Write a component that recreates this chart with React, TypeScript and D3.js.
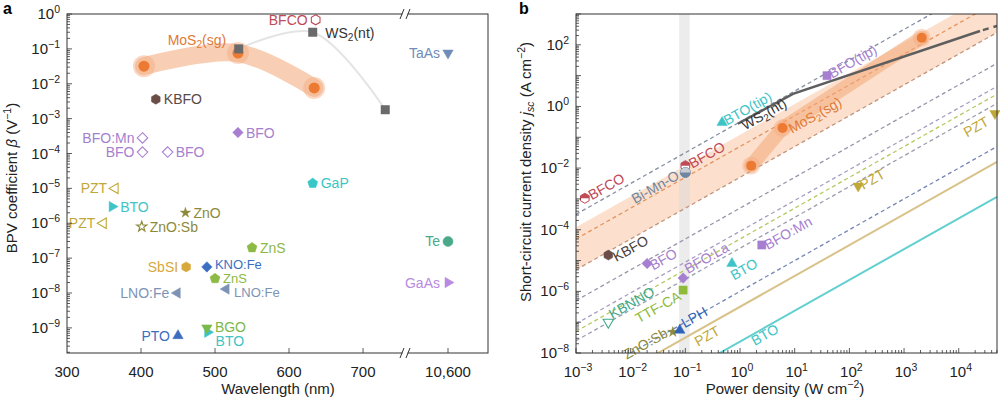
import * as d3 from "d3";

const FONT = "'Liberation Sans', Arial, Helvetica, sans-serif";

// ---------- panel a : BPV coefficient vs wavelength ----------
const aNames = ["KBFO", "BFO", "BFO:Mn", "BFO", "BFO", "GaP", "PZT", "BTO", "PZT", "ZnO", "ZnO:Sb", "ZnS", "SbSI", "KNO:Fe", "ZnS", "LNO:Fe", "LNO:Fe", "BTO", "BGO", "PTO", "Te", "GaAs", "TaAs", "BFCO"];
const aWavelength = [420, 531, 402, 402, 436, 632, 365, 361, 349, 460, 401, 550, 461, 489, 500, 515, 449, 490, 489, 450, 10600, 10600, 10600, 636];
const aBeta = [3.6e-3, 4e-4, 2.8e-4, 1.1e-4, 1.1e-4, 1.4e-5, 1e-5, 3e-6, 1e-6, 2e-6, 8e-7, 2e-7, 5.6e-8, 5.6e-8, 2.6e-8, 1.3e-8, 1e-8, 7.5e-10, 1e-9, 6e-10, 3e-7, 2e-8, 7.6e-2, 0.68];
const aMoS2Wl = [404, 531, 634];
const aMoS2Beta = [0.032, 0.076, 0.0076];
const aWS2Wl = [532, 632, 730];
const aWS2Beta = [0.1, 0.3, 0.0018];
const aXTicks = [300, 400, 500, 600, 700, 10600];
const aXTickText = ["300", "400", "500", "600", "700", "10,600"];

// ---------- panel b : short-circuit current vs power density ----------
const bNames = ["BFCO", "BFCO", "Bi-Mn-O", "BTO(tip)", "BFO(tip)", "KBFO", "BFO", "BFO:La", "TTF-CA", "KBNNO", "ZnO:Sb", "LPH", "BTO", "BFO:Mn", "PZT", "PZT"];
const bPower = [1.45e-3, 0.1, 0.1, 0.47, 39, 3.9e-3, 0.02, 0.091, 0.091, 3.9e-3, 0.059, 0.079, 0.71, 2.5, 145, 4.6e4];
const bJsc = [1.05e-3, 0.012, 7.2e-3, 0.3, 10, 1.5e-5, 8e-6, 2.7e-6, 1.1e-6, 1e-7, 4.8e-8, 5.5e-8, 8e-6, 3.2e-5, 2.6e-3, 0.59];
const bMoS2P = [1.6, 6, 2100];
const bMoS2J = [0.012, 0.2, 170];
const bWS2P = [0.91, 9.3, 2.45e4];
const bWS2J = [0.275, 2.57, 282];
const bWS2TailP = [2.45e4, 5e4];
const bWS2TailJ = [282, 410];
// log10(j) - log10(P) of the reference lines (slope 1)
const bLineOffsets = [-0.5, -1.3, -2.3, -3.3, -4.05, -4.3, -4.6, -6.0, -6.5, -7.63];
const bBandOffsets = [-0.92, -2.3];
const bGrayBandP = [0.077, 0.12];
const bNoteText = ["WS2(nt)", "MoS2(sg)", "PZT", "BTO"];
const bNoteP = [1.23, 8.9, 0.17, 1.86];
const bNoteJ = [0.166, 0.13, 1.6e-8, 1.7e-8];

// styles
const COL = {
  kbfo: "#6b4d48", bfo: "#a67fd0", pzt: "#c0a838", bto: "#3ec4c6", zno: "#8c8a3a", zns: "#8dba44",
  sbsi: "#d9a83a", kno: "#3b6fc4", lno: "#7d93b5", bgo: "#7ab94a", pto: "#3d6dbf", te: "#4aa98a",
  gaas: "#b88be0", taas: "#6f8db8", bfco: "#c04a55", gap: "#38c6c6", mos2: "#ec7a33", ws2: "#6a6a6a",
  bimno: "#6f86a0", kbnno: "#3fa88a", ttf: "#8fba3a", lph: "#2f63b8",
};

type St = { shape: string; color: string; fill: boolean; side: "l" | "r"; dx?: number; dy?: number; text?: string; fs?: number };
const aStyle: St[] = [
  { shape: "hex", color: COL.kbfo, fill: true, side: "r", text: "#5a4a48" },
  { shape: "diamond", color: COL.bfo, fill: true, side: "r" },
  { shape: "diamond", color: COL.bfo, fill: false, side: "l" },
  { shape: "diamond", color: COL.bfo, fill: false, side: "l" },
  { shape: "diamond", color: COL.bfo, fill: false, side: "r" },
  { shape: "pent", color: COL.gap, fill: true, side: "r" },
  { shape: "triLeft", color: COL.pzt, fill: false, side: "l" },
  { shape: "triRight", color: COL.bto, fill: true, side: "r" },
  { shape: "triLeft", color: COL.pzt, fill: false, side: "l" },
  { shape: "star", color: COL.zno, fill: true, side: "r" },
  { shape: "star", color: COL.zno, fill: false, side: "r" },
  { shape: "pent", color: COL.zns, fill: true, side: "r" },
  { shape: "hex", color: COL.sbsi, fill: true, side: "l" },
  { shape: "diamond", color: COL.kno, fill: true, side: "r", dy: -3, fs: 13 },
  { shape: "pent", color: COL.zns, fill: true, side: "r", dy: -1, fs: 13 },
  { shape: "triLeft", color: COL.lno, fill: true, side: "r", dy: 3, fs: 13 },
  { shape: "triLeft", color: COL.lno, fill: true, side: "l" },
  { shape: "triRight", color: COL.bto, fill: true, side: "r", dy: 9 },
  { shape: "triDown", color: COL.bgo, fill: true, side: "r", dy: -1 },
  { shape: "triUp", color: COL.pto, fill: true, side: "l" },
  { shape: "circle", color: COL.te, fill: true, side: "l" },
  { shape: "triRight", color: COL.gaas, fill: true, side: "l" },
  { shape: "triDown", color: COL.taas, fill: true, side: "l" },
  { shape: "hex", color: COL.bfco, fill: false, side: "l" },
];

type BSt = { shape: string; color: string; anchor: "start" | "end"; dx: number; dy: number };
const bStyle: BSt[] = [
  { shape: "hexHalf", color: COL.bfco, anchor: "start", dx: 7, dy: 2 },
  { shape: "hexHalf", color: COL.bfco, anchor: "start", dx: 7, dy: 3 },
  { shape: "circHalf", color: COL.bimno, anchor: "end", dx: -5, dy: 6 },
  { shape: "triUp", color: COL.bto, anchor: "start", dx: 5, dy: 3 },
  { shape: "square", color: COL.bfo, anchor: "start", dx: 5, dy: 3 },
  { shape: "hex", color: COL.kbfo, anchor: "start", dx: 8, dy: 7 },
  { shape: "diamond", color: COL.bfo, anchor: "start", dx: 6, dy: 7 },
  { shape: "diamond", color: COL.bfo, anchor: "start", dx: 5, dy: -4 },
  { shape: "square", color: COL.ttf, anchor: "end", dx: -1, dy: 9 },
  { shape: "triDownHollow", color: COL.kbnno, anchor: "start", dx: 4, dy: -3 },
  { shape: "star", color: COL.zno, anchor: "end", dx: -4, dy: 4 },
  { shape: "triUp", color: COL.lph, anchor: "start", dx: 5, dy: -2 },
  { shape: "triUp", color: COL.bto, anchor: "start", dx: 2, dy: 17 },
  { shape: "square", color: COL.bfo, anchor: "start", dx: 6, dy: 5 },
  { shape: "triDown", color: COL.pzt, anchor: "start", dx: 5, dy: 4 },
  { shape: "triDown", color: COL.pzt, anchor: "end", dx: -5, dy: 11 },
];
const bLineStyle = [
  { color: "#858ea2", dash: true }, { color: "#e3945f", dash: true }, { color: "#c2957c", dash: true },
  { color: "#9597aa", dash: true }, { color: "#a89dc2", dash: true }, { color: "#b3ca62", dash: true },
  { color: "#9c9eb0", dash: true }, { color: "#7686b3", dash: true }, { color: "#d9c28a", dash: false },
  { color: "#62cfd0", dash: false },
];
const bNoteColor = ["#333", "#e07a36", COL.pzt, COL.bto];

// ---------- helpers ----------
function poly(n: number, r: number, rot: number) {
  const pts = d3.range(n).map((i) => {
    const a = ((rot + (i * 360) / n - 90) * Math.PI) / 180;
    return [r * Math.cos(a), r * Math.sin(a)];
  });
  return "M" + pts.map((p) => p.map((v) => v.toFixed(2)).join(",")).join("L") + "Z";
}
function shapePath(shape: string, r: number) {
  switch (shape) {
    case "hex": case "hexHalf": return poly(6, r, 0);
    case "pent": return poly(5, r * 1.05, 0);
    case "triUp": return poly(3, r * 1.2, 0);
    case "triDown": case "triDownHollow": return poly(3, r * 1.2, 180);
    case "triLeft": return poly(3, r * 1.2, -90);
    case "triRight": return poly(3, r * 1.2, 90);
    case "diamond": return poly(4, r * 1.05, 0);
    case "square": return poly(4, r * 1.15, 45);
    case "star": return d3.symbol(d3.symbolStar, r * r * 1.3)() as string;
    default: return d3.symbol(d3.symbolCircle, Math.PI * r * r)() as string;
  }
}
function Marker({ x, y, shape, color, fill, r = 5 }: { x: number; y: number; shape: string; color: string; fill: boolean; r?: number }) {
  const d = shapePath(shape, r);
  if (shape === "hexHalf" || shape === "circHalf") {
    const c = r * Math.cos(Math.PI / 6);
    const top = shape === "hexHalf"
      ? `M${-c},${-r / 2}L0,${-r}L${c},${-r / 2}L${c},0L${-c},0Z`
      : `M${-r},0A${r},${r} 0 0 1 ${r},0Z`;
    const base = shape === "hexHalf" ? d : (d3.symbol(d3.symbolCircle, Math.PI * r * r)() as string);
    return (
      <g transform={`translate(${x},${y})`}>
        <path d={base} fill={shape === "hexHalf" ? "#fff" : color} stroke={color} strokeWidth={1} />
        <path d={top} fill={shape === "hexHalf" ? color : "#c9ccd3"} />
      </g>
    );
  }
  const hollow = !fill || shape === "triDownHollow";
  return (
    <path d={d} transform={`translate(${x},${y})`} fill={hollow ? "#fff" : color} stroke={color} strokeWidth={hollow ? 1.1 : 0.5} />
  );
}
function exp(e: number) {
  return e < 0 ? "\u2212" + Math.abs(e) : String(e);
}
function Pow({ x, y, e, anchor }: { x: number; y: number; e: number; anchor: string }) {
  return (
    <text x={x} y={y} textAnchor={anchor} fontSize={15} fill="#222">
      10<tspan dy={-6} fontSize={10.5}>{exp(e)}</tspan>
    </text>
  );
}
function Chem({ s }: { s: string }) {
  const m = s.match(/^([A-Za-z]+?)2(.*)$/);
  if (m && (s.startsWith("WS2") || s.startsWith("MoS2"))) {
    return (<>{m[1]}<tspan dy={3} fontSize="0.72em">2</tspan><tspan dy={-3}>{m[2]}</tspan></>);
  }
  return <>{s}</>;
}
function minorTicks(lo: number, hi: number) {
  const out: { v: number; major: boolean; e: number }[] = [];
  for (let e = Math.floor(Math.log10(lo)); e <= Math.ceil(Math.log10(hi)); e++) {
    for (let m = 1; m <= 9; m++) {
      const v = m * Math.pow(10, e);
      if (v >= lo * 0.999 && v <= hi * 1.001) out.push({ v, major: m === 1, e });
    }
  }
  return out;
}

export default function App() {
  // panel a scales
  const ax = d3.scaleLinear().domain([300, 754, 10546, 10654]).range([67, 403, 408, 488]);
  const ay = d3.scaleLog().domain([Math.pow(10, -9.72), 1]).range([353, 14]);
  // panel b scales
  const bx = d3.scaleLog().domain([1e-3, Math.pow(10, 4.7)]).range([576, 997]);
  const by = d3.scaleLog().domain([1e-8, 1e3]).range([353, 14]);
  const pxPerDecX = (997 - 576) / 7.7;
  const pxPerDecY = 339 / 11;
  const ang = (-Math.atan(pxPerDecY / pxPerDecX) * 180) / Math.PI;

  const curveLine = d3.line<[number, number]>().x((d) => d[0]).y((d) => d[1]).curve(d3.curveCatmullRom.alpha(0.5));
  const straight = d3.line<[number, number]>().x((d) => d[0]).y((d) => d[1]);

  const aMoS2Pts = aMoS2Wl.map((w, i) => [ax(w), ay(aMoS2Beta[i])] as [number, number]);
  const aWS2Pts = aWS2Wl.map((w, i) => [ax(w), ay(aWS2Beta[i])] as [number, number]);
  const bMoS2Pts = bMoS2P.map((p, i) => [bx(p), by(bMoS2J[i])] as [number, number]);
  const bWS2Pts = bWS2P.map((p, i) => [bx(p), by(bWS2J[i])] as [number, number]);
  const bWS2Tail = bWS2TailP.map((p, i) => [bx(p), by(bWS2TailJ[i])] as [number, number]);

  const P0 = 1e-3, P1 = Math.pow(10, 4.7);
  const lineAt = (c: number) => [[bx(P0), by(P0 * Math.pow(10, c))], [bx(P1), by(P1 * Math.pow(10, c))]] as [number, number][];
  const band = [...lineAt(bBandOffsets[0]), ...lineAt(bBandOffsets[1]).reverse()];

  const breakX = 405.5;
  const slash = (x: number, y: number) => `M${x - 3},${y + 5}L${x + 1},${y - 5}`;

  return (
    <svg width={1000} height={399} style={{ position: "absolute", left: 0, top: 0, fontFamily: FONT }}>
      <rect width={1000} height={399} fill="#fff" />
      <defs>
        <clipPath id="clipB"><rect x={576} y={14} width={421} height={339} /></clipPath>
        <clipPath id="clipA"><rect x={67} y={14} width={421} height={339} /></clipPath>
      </defs>

      {/* ================= panel a ================= */}
      <text x={3} y={14} fontSize={16} fontWeight="bold">a</text>
      <g clipPath="url(#clipA)">
        <path d={curveLine(aWS2Pts) || ""} fill="none" stroke="#e4e4e4" strokeWidth={2} />
        <path d={curveLine(aMoS2Pts) || ""} fill="none" stroke="#f5bf9c" strokeOpacity={0.75} strokeWidth={18} strokeLinecap="round" />
        {aMoS2Pts.map((p, i) => (<circle key={i} cx={p[0]} cy={p[1]} r={11} fill="#f4a87a" fillOpacity={0.45} />))}
        {aMoS2Pts.map((p, i) => (<circle key={i} cx={p[0]} cy={p[1]} r={5.5} fill={COL.mos2} />))}
        {aWS2Pts.map((p, i) => (<rect key={i} x={p[0] - 4.5} y={p[1] - 4.5} width={9} height={9} fill={COL.ws2} />))}
      </g>
      {aNames.map((n, i) => {
        const s = aStyle[i];
        const x = ax(aWavelength[i]), y = ay(aBeta[i]);
        return <Marker key={i} x={x} y={y} shape={s.shape} color={s.color} fill={s.fill} r={5} />;
      })}
      {aNames.map((n, i) => {
        const s = aStyle[i];
        const x = ax(aWavelength[i]), y = ay(aBeta[i]);
        return (
          <text key={i} x={x + (s.side === "r" ? 8 : -8) + (s.dx || 0)} y={y + 5 + (s.dy || 0)} textAnchor={s.side === "r" ? "start" : "end"} fontSize={s.fs || 14} fill={s.text || s.color}>
            {n}
          </text>
        );
      })}
      <text x={ax(436)} y={ay(0.13)} fontSize={14} fill="#e07a36"><Chem s="MoS2(sg)" /></text>
      <text x={ax(649)} y={ay(0.2)} fontSize={14} fill="#333"><Chem s="WS2(nt)" /></text>

      {/* axes a */}
      <rect x={67} y={14} width={421} height={339} fill="none" stroke="#333" strokeWidth={1} />
      {minorTicks(ay.domain()[0], 1).map((t, i) => (
        <line key={i} x1={67} x2={67 + (t.major ? 5 : 3)} y1={ay(t.v)} y2={ay(t.v)} stroke="#333" strokeWidth={0.8} />
      ))}
      {d3.range(-9, 1).map((e) => (<Pow key={e} x={60} y={ay(Math.pow(10, e)) + 5} e={e} anchor="end" />))}
      {aXTicks.map((t, i) => (
        <g key={i}>
          {i > 0 && <line x1={ax(t)} x2={ax(t)} y1={353} y2={348} stroke="#333" strokeWidth={0.8} />}
          <text x={ax(t)} y={377} textAnchor="middle" fontSize={15} fill="#222">{aXTickText[i]}</text>
        </g>
      ))}
      {[14, 353].map((y) => (
        <g key={y}>
          <rect x={breakX - 3} y={y - 1.5} width={5} height={3} fill="#fff" />
          <path d={slash(breakX - 2.5, y)} stroke="#333" strokeWidth={1} />
          <path d={slash(breakX + 3.5, y)} stroke="#333" strokeWidth={1} />
        </g>
      ))}
      <text x={278} y={394} textAnchor="middle" fontSize={15} fill="#222">Wavelength (nm)</text>
      <text transform={`translate(17,178) rotate(-90)`} textAnchor="middle" fontSize={15} fill="#222">
        BPV coefficient <tspan fontStyle="italic">β</tspan> (V<tspan dy={-6} fontSize={10.5}>{"\u2212"}1</tspan><tspan dy={6}>)</tspan>
      </text>

      {/* ================= panel b ================= */}
      <text x={519} y={14} fontSize={16} fontWeight="bold">b</text>
      <g clipPath="url(#clipB)">
        <path d={straight(band as [number, number][]) + "Z"} fill="#fbd8c0" fillOpacity={0.8} />
        <rect x={bx(bGrayBandP[0])} y={14} width={bx(bGrayBandP[1]) - bx(bGrayBandP[0])} height={339} fill="#d9d9d9" fillOpacity={0.5} />
        {bLineOffsets.map((c, i) => (
          <path key={i} d={straight(lineAt(c)) || ""} fill="none" stroke={bLineStyle[i].color} strokeWidth={bLineStyle[i].dash ? 1.3 : 2} strokeDasharray={bLineStyle[i].dash ? "4,3" : undefined} />
        ))}
        <path d={straight(bMoS2Pts) || ""} fill="none" stroke="#f3a878" strokeOpacity={0.55} strokeWidth={14} strokeLinecap="round" strokeLinejoin="round" />
        {bMoS2Pts.map((p, i) => (<circle key={i} cx={p[0]} cy={p[1]} r={9} fill="#f4a87a" fillOpacity={0.4} />))}
        {bMoS2Pts.map((p, i) => (<circle key={i} cx={p[0]} cy={p[1]} r={5} fill={COL.mos2} />))}
        <path d={straight(bWS2Pts) || ""} fill="none" stroke="#5e5e5e" strokeWidth={2.5} />
        <path d={straight(bWS2Tail) || ""} fill="none" stroke="#5e5e5e" strokeWidth={2.5} strokeDasharray="6,5" strokeDashoffset={-3} />
      </g>
      {bNames.map((n, i) => {
        const s = bStyle[i];
        return <Marker key={i} x={bx(bPower[i])} y={by(bJsc[i])} shape={s.shape} color={s.color} fill={true} r={5} />;
      })}
      {bNames.map((n, i) => {
        const s = bStyle[i];
        const x = bx(bPower[i]) + s.dx, y = by(bJsc[i]) + s.dy;
        return (
          <text key={i} transform={`translate(${x},${y}) rotate(${ang})`} textAnchor={s.anchor} fontSize={14} fill={s.color === COL.kbfo ? "#4a3f3e" : s.color}>
            {n}
          </text>
        );
      })}
      {bNoteText.map((t, i) => (
        <text key={i} transform={`translate(${bx(bNoteP[i])},${by(bNoteJ[i])}) rotate(${ang})`} fontSize={14} fill={bNoteColor[i]}>
          <Chem s={t} />
        </text>
      ))}

      {/* axes b */}
      <rect x={576} y={14} width={421} height={339} fill="none" stroke="#333" strokeWidth={1} />
      {minorTicks(1e-8, 1e3).map((t, i) => (
        <line key={i} x1={576} x2={576 + (t.major ? 5 : 3)} y1={by(t.v)} y2={by(t.v)} stroke="#333" strokeWidth={0.8} />
      ))}
      {minorTicks(1e-3, Math.pow(10, 4.7)).map((t, i) => (
        <line key={i} x1={bx(t.v)} x2={bx(t.v)} y1={353} y2={353 - (t.major ? 5 : 3)} stroke="#333" strokeWidth={0.8} />
      ))}
      {[-8, -6, -4, -2, 0, 2].map((e) => (<Pow key={e} x={569} y={by(Math.pow(10, e)) + 5} e={e} anchor="end" />))}
      {d3.range(-3, 5).map((e) => (<Pow key={e} x={bx(Math.pow(10, e)) + 2} y={377} e={e} anchor="middle" />))}
      <text x={785} y={394} textAnchor="middle" fontSize={15} fill="#222">
        Power density (W cm<tspan dy={-6} fontSize={10.5}>{"\u2212"}2</tspan><tspan dy={6}>)</tspan>
      </text>
      <text transform={`translate(531,172) rotate(-90)`} textAnchor="middle" fontSize={15} fill="#222">
        Short-circuit current density <tspan fontStyle="italic">j</tspan><tspan dy={3} fontSize={10.5} fontStyle="italic">sc</tspan><tspan dy={-3}> (A cm</tspan><tspan dy={-6} fontSize={10.5}>{"\u2212"}2</tspan><tspan dy={6}>)</tspan>
      </text>
    </svg>
  );
}
